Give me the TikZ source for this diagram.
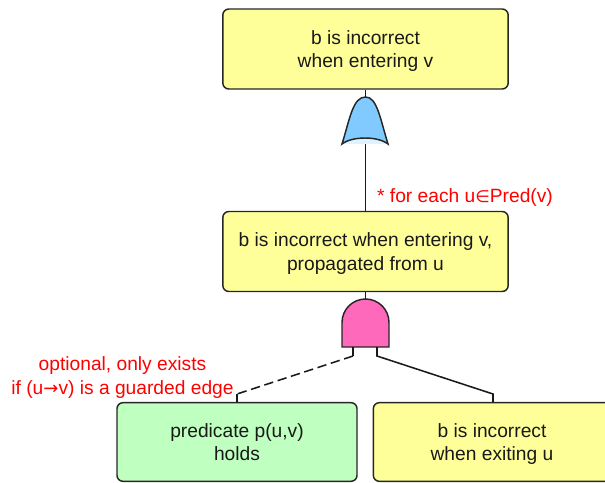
\documentclass[tikz,border=0pt]{standalone}
\usepackage{fontspec}
\setmainfont{Liberation Sans}
\newfontfamily\symfont{DejaVu Sans}
\usetikzlibrary{calc}
\definecolor{boxyellow}{HTML}{FFFF99}
\definecolor{boxgreen}{HTML}{BFFFBF}
\definecolor{orblue}{HTML}{80CAFF}
\definecolor{andpink}{HTML}{FF69BC}
\tikzset{
  event/.style = {draw=black!85, line width=1.1pt, rounded corners=4.5pt, align=center, inner sep=0pt, text depth=0pt, font=\fontsize{14.4pt}{17.5pt}\selectfont, text=black!90},
  gate/.style = {draw=black!85, line width=1.1pt},
  wire/.style = {black!90, line width=1.15pt},
  remark/.style = {red, align=center, inner sep=0pt, font=\fontsize{14.4pt}{17.5pt}\selectfont}
}

\begin{document}
\begin{tikzpicture}[x=0.75pt, y=-0.75pt]
\useasboundingbox (0,0) rectangle (605,482);
\clip (0,0) rectangle (605,482);
% boxes
\node [event, fill=boxyellow, minimum width=214pt, minimum height=60pt] (entering) at (365.5,49) {b is incorrect\\when entering v};
\node [event, fill=boxyellow, minimum width=214pt, minimum height=60pt] (propagated) at (365.5,251.5) {b is incorrect when entering v,\\propagated from u};
\node [event, fill=boxgreen, minimum width=180pt, minimum height=59pt] (predicate) at (237,442) {predicate p(u,v)\\holds};
\node [event, fill=boxyellow, minimum width=178pt, minimum height=59pt] (exiting) at (492,442) {b is incorrect\\when exiting u};
% gates
\coordinate (orgate) at (365.5,97);
\coordinate (orleft) at (342,144);
\coordinate (orright) at (388,144);
\coordinate (orbase) at (365.5,144);
\coordinate (andgate) at (365.5,299);
\coordinate (andleft) at (353,347);
\coordinate (andright) at (377,347);
\coordinate (kneeleft) at (353,356);
\coordinate (kneeright) at (377,356);
\coordinate (dropleft) at (237,394);
\coordinate (dropright) at (493,394);
\draw [wire] (entering.south -| orgate) -- (orgate);
\draw [wire] (orbase) -- (orbase |- propagated.north);
\draw [wire] (propagated.south -| andgate) -- (andgate);
\fill [orblue!25] (orleft) .. controls (352,137) and (378,137) .. (orright) -- cycle;
\draw [gate, fill=orblue] (orleft) .. controls (350,118) and (353,97) .. (orgate) .. controls (377,97) and (380,118) .. (orright) .. controls (378,136) and (352,136) .. (orleft) -- cycle;
\draw [gate, fill=andpink] (342,347) -- (342,322.5) arc [start angle=180, end angle=360, radius=23.5] -- (389,347) -- cycle;
% wires below the and gate
\draw [wire] (andleft) -- (kneeleft);
\draw [wire, dashed, dash pattern=on 7pt off 3.5pt] (kneeleft) -- (dropleft);
\draw [wire] (dropleft) -- (dropleft |- predicate.north);
\draw [wire] (andright) -- (kneeright) -- (dropright) -- (dropright |- exiting.north);
% red remarks
\node [remark] (foreach) at (465,197.5) {* for each u{\symfont\fontsize{12.5pt}{17.5pt}\selectfont ∈}Pred(v)};
\node [remark] (optional) at (122.5,377.5) {optional, only exists\\if (u{\symfont\fontsize{13.5pt}{17.5pt}\selectfont →}v) is a guarded edge};
\end{tikzpicture}
\end{document}
